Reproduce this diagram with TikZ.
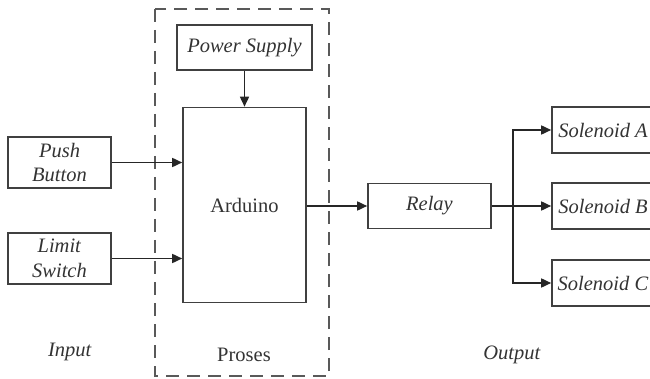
\documentclass[tikz,border=0pt]{standalone}
\usepackage{fontspec}
\setmainfont{Liberation Serif}
\usetikzlibrary{arrows.meta}

\begin{document}
\begin{tikzpicture}[x=1pt,y=-1pt,
    box/.style={draw=black!75,line width=1.6pt,align=center,text=black!80,
        font=\fontsize{20.5}{24.5}\selectfont},
    arr/.style={-{Triangle[length=10pt,width=9pt]},line width=1.6pt,draw=black!85},
    lbl/.style={text=black!80,font=\fontsize{20.5}{24.5}\selectfont}]
    \useasboundingbox(0,0)rectangle(650,379);
    \clip(0,0)rectangle(650,379);
    \draw[dashed,line width=1.6pt,draw=black!65,dash pattern=on 13pt off 8pt](155,9)rectangle(329,376);
    \node[box,minimum width=135,minimum height=45](power)at(244.5,47.5){\textit{Power Supply}};
    \node[box,minimum width=123,minimum height=195](arduino)at(244.5,205){Arduino};
    \node[box,minimum width=103,minimum height=51](push)at(59.5,162.5){\textit{Push}\\\textit{Button}};
    \node[box,minimum width=103,minimum height=51](limit)at(59.5,258.5){\textit{Limit}\\\textit{Switch}};
    \node[box,minimum width=123,minimum height=45](relay)at(429.5,206){\textit{Relay}};
    \node[box,minimum width=102,minimum height=46](solA)at(603,130){\textit{Solenoid A}};
    \node[box,minimum width=102,minimum height=46](solB)at(603,206){\textit{Solenoid B}};
    \node[box,minimum width=102,minimum height=46](solC)at(603,283){\textit{Solenoid C}};
    \coordinate(br)at(513,206);
    \draw[arr](power)--(arduino);
    \draw[arr](push.east)--(push.east-|arduino.west);
    \draw[arr](limit.east)--(limit.east-|arduino.west);
    \draw[arr](arduino.east|-relay.west)--(relay.west);
    \draw[line width=1.6pt,draw=black!85](relay.east)--(br);
    \draw[arr](br)|-(solA.west);
    \draw[arr](br)--(solB.west);
    \draw[arr](br)|-(solC.west);
    \node[lbl](input)at(70,352){\textit{Input}};
    \node[lbl](proses)at(244,355){Proses};
    \node[lbl](output)at(512,355){\textit{Output}};
\end{tikzpicture}
\end{document}
